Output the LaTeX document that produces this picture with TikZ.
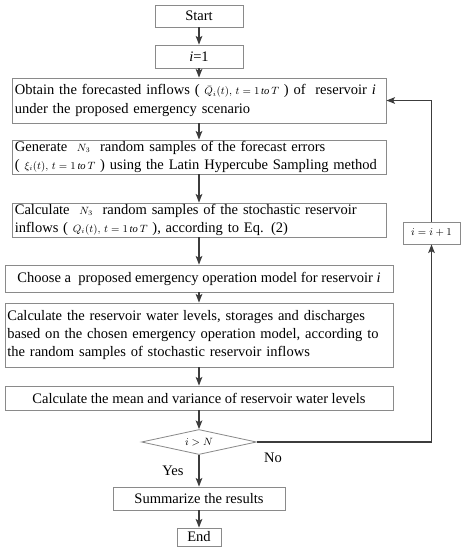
\documentclass[tikz,border=0pt]{standalone}
\usepackage{fontspec}
\setmainfont{Liberation Serif}
\usepackage{tikz}
\usetikzlibrary{arrows.meta,positioning,shapes.geometric,calc}
\definecolor{boxGray}{HTML}{8A8A8A}
\definecolor{arrowGray}{HTML}{3C3C3C}
\newcommand{\eqn}[1]{{\small$#1$}}

\begin{document}
\begin{tikzpicture}[x=0.03cm, y=-0.03cm, font=\fontsize{12.4}{15.6}\selectfont,
    procbox/.style={draw=boxGray, line width=0.7pt, rectangle, inner sep=1pt},
    wide/.style={procbox, inner xsep=0.05cm, align=left},
    flow/.style={-{Stealth[length=0.26cm, width=0.2cm, inset=0.06cm]}, draw=arrowGray, line width=1pt}]

    % Page frame
    \useasboundingbox (0,0) rectangle (464,550);

    % Main column
    \node (start) [procbox, minimum width=2.64cm, minimum height=0.66cm] at (199,16) {Start};
    \node (init) [procbox, minimum width=2.64cm, minimum height=0.69cm] at (199,56.5) {\textit{i}=1};
    \node (obtain) [wide, minimum width=11.22cm, minimum height=1.35cm, text width=11.05cm] at (199,100.5)
        {Obtain the forecasted inflows ( \eqn{\bar{Q}_i(t),\,t=1\,\mathit{to}\,T} ) of \ reservoir \textit{i}\\
         under the proposed emergency scenario};
    \node (generate) [wide, minimum width=11.22cm, minimum height=0.96cm, text width=11.05cm] at (199,157)
        {Generate \ \eqn{N_3} \ random samples of the forecast errors\\
         ( \eqn{\xi_i(t),\,t=1\,\mathit{to}\,T} ) using the Latin Hypercube Sampling method};
    \node (samples) [wide, minimum width=11.22cm, minimum height=0.96cm, text width=11.05cm] at (199,220)
        {Calculate \ \eqn{N_3} \ random samples of the stochastic reservoir\\
         inflows ( \eqn{Q_i(t),\,t=1\,\mathit{to}\,T} ), according to Eq. (2)};
    \node (choose) [procbox, minimum width=11.64cm, minimum height=0.81cm] at (199,278.5)
        {Choose a \ proposed emergency operation model for reservoir \textit{i}};
    \node (levels) [wide, minimum width=11.64cm, minimum height=1.92cm, text width=11.5cm] at (199,335)
        {Calculate the reservoir water levels, storages and discharges\\
         based on the chosen emergency operation model, according to\\
         the random samples of stochastic reservoir inflows};
    \node (stats) [procbox, minimum width=11.64cm, minimum height=0.72cm] at (199,398)
        {Calculate the mean and variance of reservoir water levels};
    \node (check) [procbox, diamond, aspect=4.6, inner sep=0pt,
                   minimum width=3.45cm, minimum height=0.75cm] at (199,442) {\eqn{i>N}};
    \node (summary) [procbox, minimum width=5.16cm, minimum height=0.69cm] at (199,498.5)
        {Summarize the results};
    \node (finish) [procbox, minimum width=1.32cm, minimum height=0.54cm] at (199,537) {End};

    % Loop counter
    \node (next) [procbox, minimum width=1.71cm, minimum height=0.66cm] at (431.5,233) {\eqn{i=i+1}};

    % Labels
    \node (yes) at (173,471) {Yes};
    \node (no) at (273,458) {No};

    % Connectors
    \draw[flow] (start) -- (init);
    \draw[flow] (init) -- (obtain);
    \draw[flow] (obtain) -- (generate);
    \draw[flow] (generate) -- (samples);
    \draw[flow] (samples) -- (choose);
    \draw[flow] (choose) -- (levels);
    \draw[flow] (levels) -- (stats);
    \draw[flow] (stats) -- (check);
    \draw[flow] (check) -- (summary);
    \draw[flow] (summary) -- (finish);
    \draw[flow] (check.east) -| (next.south);
    \draw[flow] (next.north) |- (obtain.east);

\end{tikzpicture}
\end{document}
